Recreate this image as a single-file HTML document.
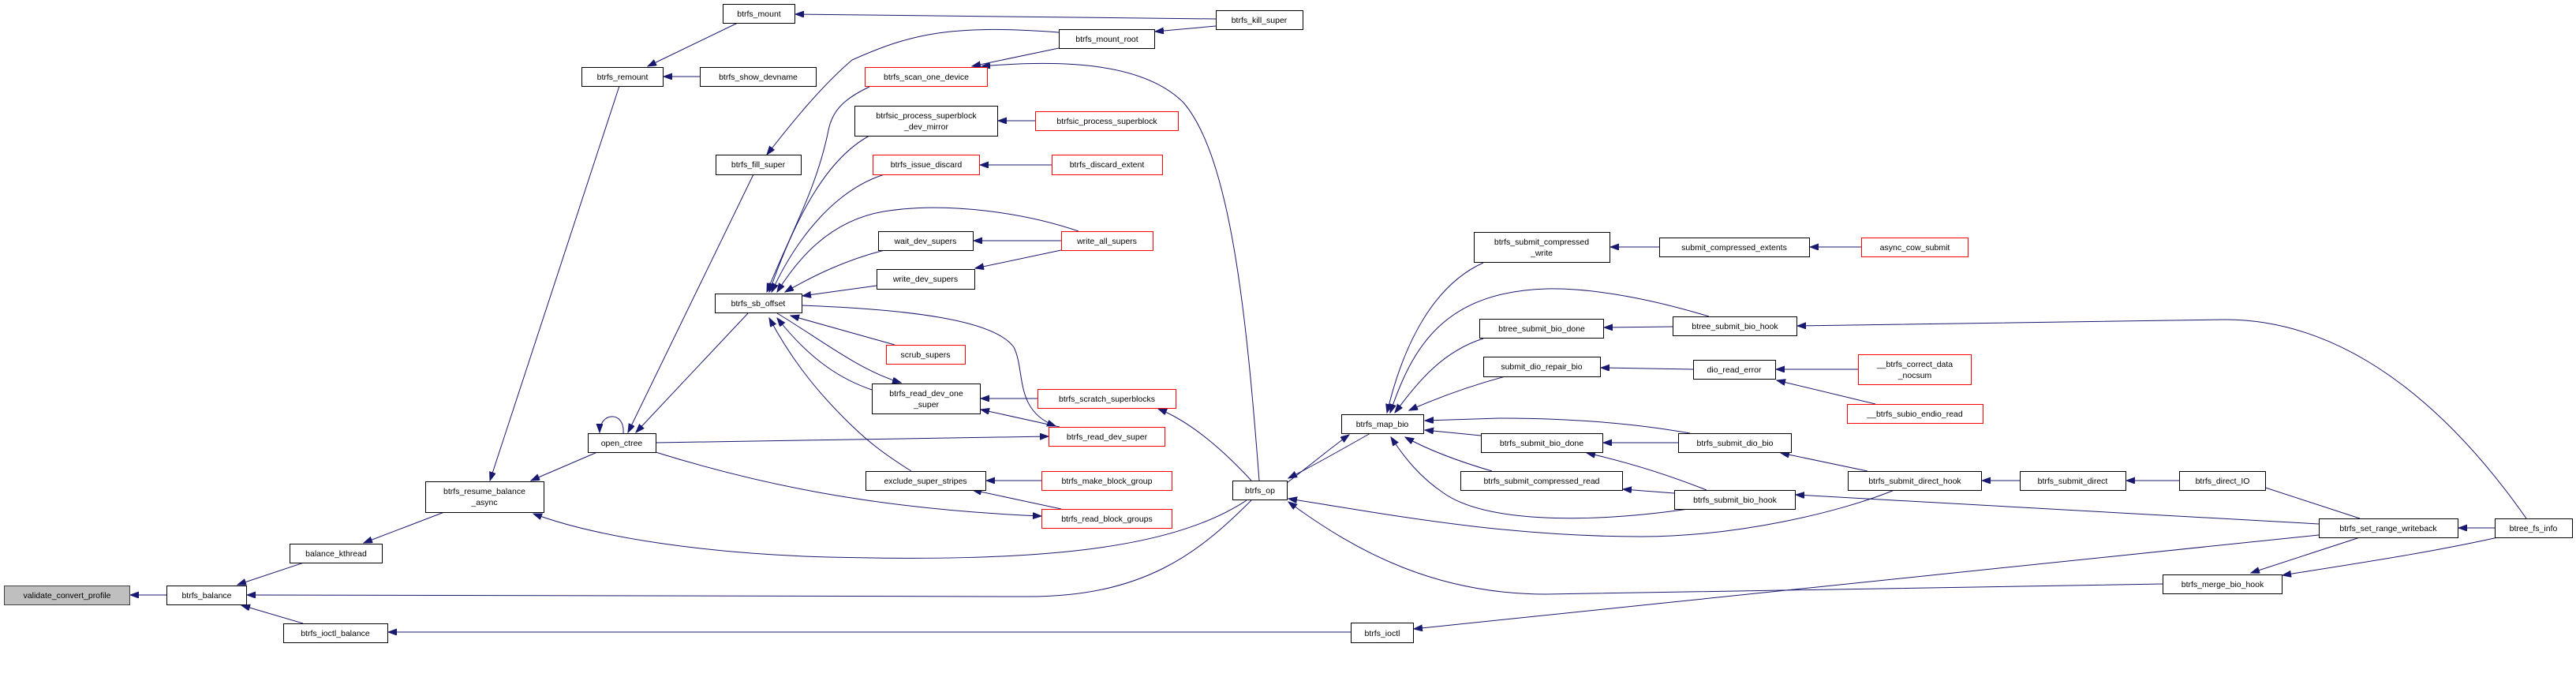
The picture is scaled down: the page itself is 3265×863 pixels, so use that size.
<!DOCTYPE html>
<html><head><meta charset="utf-8"><style>
html,body{margin:0;padding:0;background:#fff;}
svg{display:block;}
text{font-family:"Liberation Sans",sans-serif;font-size:10.5px;fill:#000;}
</style></head><body>
<svg width="3265" height="863" viewBox="0 0 3265 863" xmlns="http://www.w3.org/2000/svg">
<defs>
<marker id="a" markerUnits="userSpaceOnUse" markerWidth="12" markerHeight="10" refX="11" refY="4" orient="auto">
<path d="M0,0 L11,4 L0,8 Z" fill="#191970" stroke="#191970"/>
</marker>
</defs>
<g fill="none" stroke="#191970" stroke-width="1" marker-end="url(#a)">
<path d="M211,754 L165,754"/>
<path d="M385,713 L301,741"/>
<path d="M384,790 L306,767"/>
<path d="M563,649 L461,688"/>
<path d="M785,109 L621,609"/>
<path d="M757,573 L673,609"/>
<path d="M1580,634 C1480,700 1300,712 1050,706 C900,702 760,682 676,651"/>
<path d="M1586,634 C1520,700 1450,757 1300,756 L313,754"/>
<path d="M1712,801 L492,801"/>
<path d="M935,29 L821,84"/>
<path d="M887,97 L841,97"/>
<path d="M1541,24 L1008,18"/>
<path d="M1541,33 L1464,40"/>
<path d="M1342,41 C1200,30 1150,45 1080,76 C1040,110 1000,160 972,196"/>
<path d="M1342,61 L1232,84"/>
<path d="M1596,609 C1580,400 1560,200 1500,130 C1450,80 1350,75 1244,84"/>
<path d="M955,221 L796,548"/>
<path d="M790,549 C792,520 760,522 760,548"/>
<path d="M948,397 L806,548"/>
<path d="M831,561 L1329,553"/>
<path d="M831,573 C950,610 1100,645 1320,654"/>
<path d="M1102,110 C1070,125 1055,140 1050,165 C1035,240 1000,300 972,370"/>
<path d="M1102,172 C1050,200 1010,270 975,370"/>
<path d="M1121,221 C1060,240 1010,300 978,370"/>
<path d="M1367,293 C1300,270 1200,255 1120,268 C1050,280 1010,330 985,370"/>
<path d="M1121,317 C1070,330 1030,350 995,370"/>
<path d="M1111,362 L1017,375"/>
<path d="M1134,437 L1002,400"/>
<path d="M1105,494 C1070,482 1030,460 985,403"/>
<path d="M985,397 C1040,430 1090,470 1142,485"/>
<path d="M1155,597 C1120,575 1100,560 1070,530 C1030,490 1000,450 975,403"/>
<path d="M1016,387 C1150,392 1260,405 1285,440 C1300,470 1285,520 1338,540"/>
<path d="M1345,305 L1234,305"/>
<path d="M1345,317 L1236,340"/>
<path d="M1312,153 L1265,153"/>
<path d="M1333,209 L1242,209"/>
<path d="M1315,505 L1243,505"/>
<path d="M1343,541 L1243,519"/>
<path d="M1320,609 L1250,609"/>
<path d="M1345,645 L1233,621"/>
<path d="M1586,609 C1550,570 1510,535 1468,518"/>
<path d="M1631,612 C1660,590 1690,565 1710,551"/>
<path d="M1737,549 C1700,570 1665,590 1633,606"/>
<path d="M2401,621 C2330,650 2200,680 2080,680 C1900,680 1750,650 1633,632"/>
<path d="M2741,740 L1960,753 C1820,753 1720,700 1633,636"/>
<path d="M2939,678 L1792,797"/>
<path d="M1880,333 C1820,360 1780,430 1758,523"/>
<path d="M2166,401 C2080,375 2010,365 1960,366 C1830,370 1790,440 1762,523"/>
<path d="M1880,429 C1830,445 1800,480 1768,523"/>
<path d="M1908,477 C1860,490 1820,505 1786,520"/>
<path d="M2142,549 C2080,538 2000,530 1900,530 L1806,533"/>
<path d="M1877,552 L1806,545"/>
<path d="M1891,597 C1850,585 1810,570 1781,554"/>
<path d="M2140,645 C2000,665 1880,660 1830,625 C1800,605 1780,580 1763,554"/>
<path d="M2103,313 L2041,313"/>
<path d="M2359,313 L2294,313"/>
<path d="M2120,414 L2033,415"/>
<path d="M3202,657 C3120,540 2990,405 2820,405 L2278,413"/>
<path d="M2146,468 L2029,466"/>
<path d="M2355,468 L2251,468"/>
<path d="M2377,512 L2252,482"/>
<path d="M2127,561 L2032,561"/>
<path d="M2163,621 C2110,600 2060,585 2011,574"/>
<path d="M2122,625 L2057,620"/>
<path d="M2367,597 L2257,574"/>
<path d="M2560,609 L2512,609"/>
<path d="M2762,609 L2695,609"/>
<path d="M2991,657 L2853,612"/>
<path d="M2939,664 L2276,627"/>
<path d="M3162,669 L3116,669"/>
<path d="M2991,681 L2853,726"/>
<path d="M3166,681 C3080,700 3000,712 2893,729"/>
</g>
<g stroke-width="1" fill="#fff">
<rect x="5.5" y="742.5" width="159" height="24" fill="#bfbfbf" stroke="#404040"/>
<rect x="211.5" y="742.5" width="101" height="24" stroke="#000"/>
<rect x="367.5" y="689.5" width="117" height="24" stroke="#000"/>
<rect x="359.5" y="790.5" width="132" height="24" stroke="#000"/>
<rect x="539.5" y="610.5" width="150" height="39" stroke="#000"/>
<rect x="737.5" y="85.5" width="103" height="24" stroke="#000"/>
<rect x="745.5" y="549.5" width="86" height="24" stroke="#000"/>
<rect x="916.5" y="5.5" width="91" height="24" stroke="#000"/>
<rect x="1541.5" y="13.5" width="110" height="24" stroke="#000"/>
<rect x="1342.5" y="37.5" width="121" height="24" stroke="#000"/>
<rect x="887.5" y="85.5" width="147" height="24" stroke="#000"/>
<rect x="1096.5" y="85.5" width="155" height="24" stroke="#f00"/>
<rect x="1083.5" y="134.5" width="181" height="38" stroke="#000"/>
<rect x="1312.5" y="141.5" width="181" height="24" stroke="#f00"/>
<rect x="907.5" y="196.5" width="108" height="25" stroke="#000"/>
<rect x="1106.5" y="196.5" width="135" height="25" stroke="#f00"/>
<rect x="1333.5" y="196.5" width="140" height="25" stroke="#f00"/>
<rect x="1113.5" y="293.5" width="120" height="24" stroke="#000"/>
<rect x="1345.5" y="293.5" width="116" height="24" stroke="#f00"/>
<rect x="1111.5" y="341.5" width="124" height="25" stroke="#000"/>
<rect x="906.5" y="372.5" width="110" height="24" stroke="#000"/>
<rect x="1123.5" y="437.5" width="100" height="24" stroke="#f00"/>
<rect x="1105.5" y="486.5" width="137" height="38" stroke="#000"/>
<rect x="1315.5" y="493.5" width="175" height="24" stroke="#f00"/>
<rect x="1329.5" y="541.5" width="147" height="24" stroke="#f00"/>
<rect x="1097.5" y="597.5" width="152" height="24" stroke="#000"/>
<rect x="1320.5" y="597.5" width="165" height="24" stroke="#f00"/>
<rect x="1320.5" y="645.5" width="165" height="24" stroke="#f00"/>
<rect x="1562.5" y="609.5" width="69" height="24" stroke="#000"/>
<rect x="1868.5" y="294.5" width="172" height="38" stroke="#000"/>
<rect x="2103.5" y="301.5" width="190" height="24" stroke="#000"/>
<rect x="2359.5" y="301.5" width="135" height="24" stroke="#f00"/>
<rect x="1875.5" y="404.5" width="157" height="24" stroke="#000"/>
<rect x="2120.5" y="401.5" width="157" height="24" stroke="#000"/>
<rect x="1880.5" y="452.5" width="148" height="25" stroke="#000"/>
<rect x="2146.5" y="456.5" width="104" height="24" stroke="#000"/>
<rect x="2355.5" y="449.5" width="143" height="38" stroke="#f00"/>
<rect x="2341.5" y="512.5" width="172" height="24" stroke="#f00"/>
<rect x="1700.5" y="525.5" width="104" height="24" stroke="#000"/>
<rect x="1877.5" y="549.5" width="154" height="24" stroke="#000"/>
<rect x="2127.5" y="549.5" width="143" height="24" stroke="#000"/>
<rect x="1851.5" y="597.5" width="205" height="24" stroke="#000"/>
<rect x="2122.5" y="621.5" width="153" height="24" stroke="#000"/>
<rect x="2342.5" y="597.5" width="169" height="24" stroke="#000"/>
<rect x="1712.5" y="789.5" width="79" height="25" stroke="#000"/>
<rect x="2560.5" y="597.5" width="134" height="24" stroke="#000"/>
<rect x="2762.5" y="597.5" width="109" height="24" stroke="#000"/>
<rect x="2939.5" y="657.5" width="176" height="24" stroke="#000"/>
<rect x="3162.5" y="657.5" width="98" height="24" stroke="#000"/>
<rect x="2741.5" y="728.5" width="151" height="24" stroke="#000"/>
</g>
<g text-anchor="middle">
<text x="85" y="758">validate_convert_profile</text>
<text x="262" y="758">btrfs_balance</text>
<text x="426" y="705">balance_kthread</text>
<text x="425" y="806">btrfs_ioctl_balance</text>
<text x="614" y="626">btrfs_resume_balance</text>
<text x="614" y="640">_async</text>
<text x="789" y="101">btrfs_remount</text>
<text x="788" y="565">open_ctree</text>
<text x="962" y="21">btrfs_mount</text>
<text x="1596" y="29">btrfs_kill_super</text>
<text x="1403" y="53">btrfs_mount_root</text>
<text x="961" y="101">btrfs_show_devname</text>
<text x="1174" y="101">btrfs_scan_one_device</text>
<text x="1174" y="150">btrfsic_process_superblock</text>
<text x="1174" y="164">_dev_mirror</text>
<text x="1403" y="157">btrfsic_process_superblock</text>
<text x="961" y="212">btrfs_fill_super</text>
<text x="1174" y="212">btrfs_issue_discard</text>
<text x="1403" y="212">btrfs_discard_extent</text>
<text x="1173" y="309">wait_dev_supers</text>
<text x="1403" y="309">write_all_supers</text>
<text x="1173" y="357">write_dev_supers</text>
<text x="961" y="388">btrfs_sb_offset</text>
<text x="1173" y="453">scrub_supers</text>
<text x="1174" y="502">btrfs_read_dev_one</text>
<text x="1174" y="516">_super</text>
<text x="1403" y="509">btrfs_scratch_superblocks</text>
<text x="1403" y="557">btrfs_read_dev_super</text>
<text x="1173" y="613">exclude_super_stripes</text>
<text x="1403" y="613">btrfs_make_block_group</text>
<text x="1403" y="661">btrfs_read_block_groups</text>
<text x="1597" y="625">btrfs_op</text>
<text x="1954" y="310">btrfs_submit_compressed</text>
<text x="1954" y="324">_write</text>
<text x="2198" y="317">submit_compressed_extents</text>
<text x="2427" y="317">async_cow_submit</text>
<text x="1954" y="420">btree_submit_bio_done</text>
<text x="2199" y="417">btree_submit_bio_hook</text>
<text x="1954" y="468">submit_dio_repair_bio</text>
<text x="2198" y="472">dio_read_error</text>
<text x="2427" y="465">__btrfs_correct_data</text>
<text x="2427" y="479">_nocsum</text>
<text x="2427" y="528">__btrfs_subio_endio_read</text>
<text x="1752" y="541">btrfs_map_bio</text>
<text x="1954" y="565">btrfs_submit_bio_done</text>
<text x="2199" y="565">btrfs_submit_dio_bio</text>
<text x="1954" y="613">btrfs_submit_compressed_read</text>
<text x="2199" y="637">btrfs_submit_bio_hook</text>
<text x="2427" y="613">btrfs_submit_direct_hook</text>
<text x="1752" y="806">btrfs_ioctl</text>
<text x="2627" y="613">btrfs_submit_direct</text>
<text x="2817" y="613">btrfs_direct_IO</text>
<text x="3027" y="673">btrfs_set_range_writeback</text>
<text x="3211" y="673">btree_fs_info</text>
<text x="2817" y="744">btrfs_merge_bio_hook</text>
</g>
</svg>
</body></html>
